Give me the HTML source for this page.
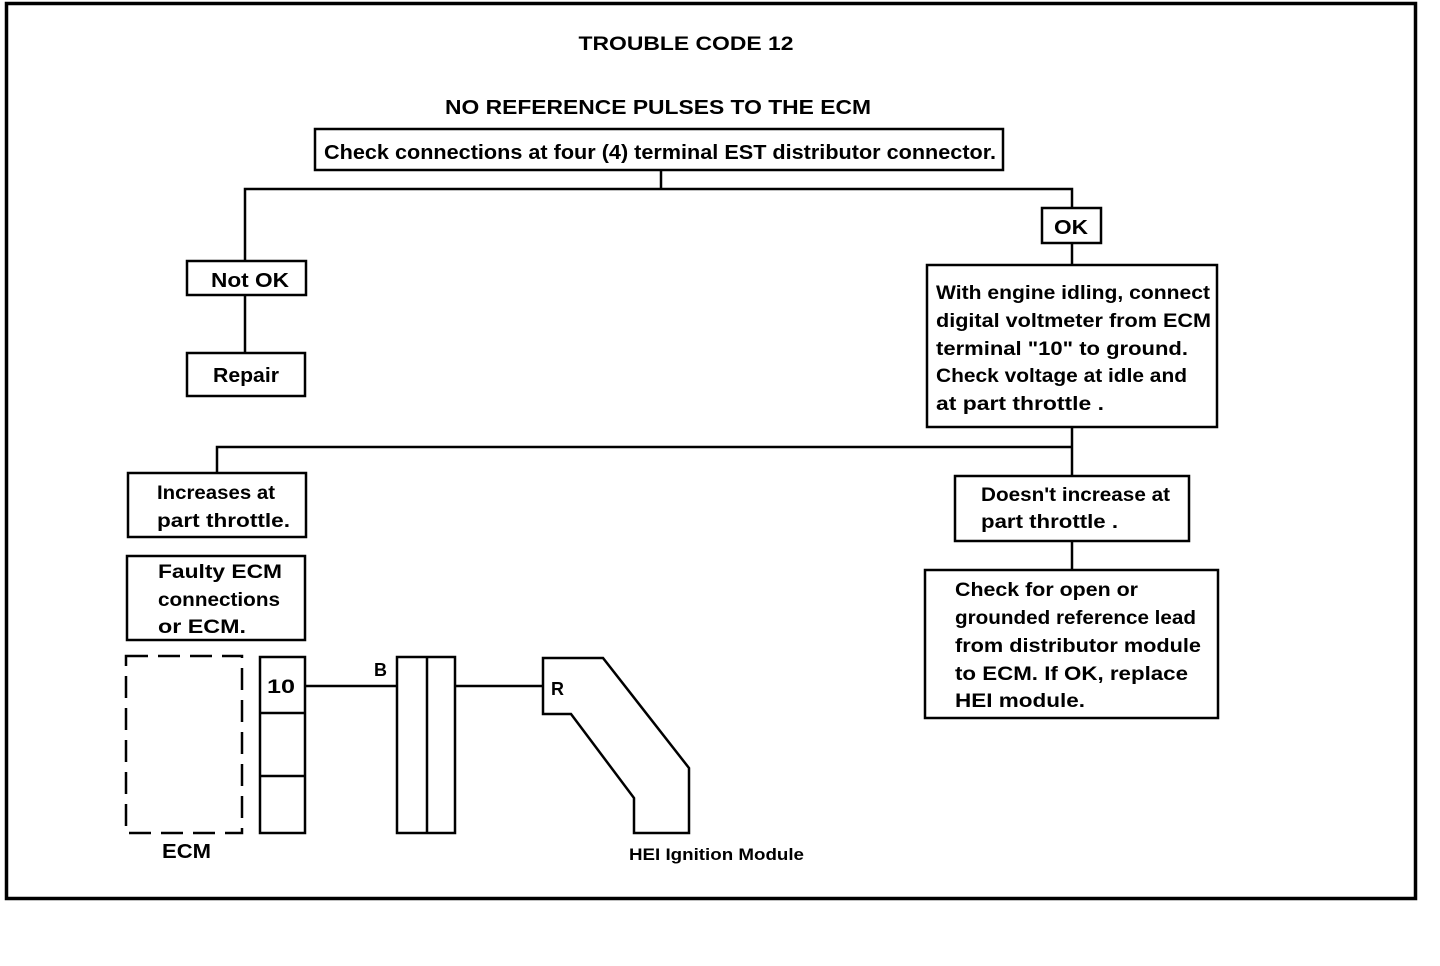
<!DOCTYPE html>
<html><head><meta charset="utf-8"><style>
html,body{margin:0;padding:0;background:#fff;width:1440px;height:966px;overflow:hidden}
svg text{font-family:"Liberation Sans",Arial,sans-serif;font-weight:bold;fill:#000}
</style></head><body>
<svg width="1440" height="966" viewBox="0 0 1440 966" xmlns="http://www.w3.org/2000/svg">
<g fill="none" stroke="#000">
<rect x="6.5" y="3.5" width="1409" height="895" stroke-width="3.5"/>
<g stroke-width="2.5">
<rect x="315" y="129" width="688" height="41"/>
<polyline points="661,170 661,189"/>
<polyline points="245,261 245,189 1072,189 1072,208"/>
<rect x="1042" y="208" width="59" height="35"/>
<line x1="1072" y1="243" x2="1072" y2="265"/>
<rect x="927" y="265" width="290" height="162"/>
<rect x="187" y="261" width="119" height="34"/>
<line x1="245" y1="295" x2="245" y2="353"/>
<rect x="187" y="353" width="118" height="43"/>
<line x1="1072" y1="427" x2="1072" y2="476"/>
<polyline points="217,473 217,447 1072,447"/>
<rect x="128" y="473" width="178" height="64"/>
<rect x="127" y="556" width="178" height="84"/>
<rect x="955" y="476" width="234" height="65"/>
<line x1="1072" y1="541" x2="1072" y2="570"/>
<rect x="925" y="570" width="293" height="148"/>
<rect x="126" y="656" width="116" height="177" stroke-dasharray="22,10"/>
<rect x="260" y="657" width="45" height="176"/>
<line x1="260" y1="713" x2="305" y2="713"/>
<line x1="260" y1="776" x2="305" y2="776"/>
<line x1="305" y1="686" x2="397" y2="686"/>
<rect x="397" y="657" width="58" height="176"/>
<line x1="427" y1="657" x2="427" y2="833"/>
<line x1="455" y1="686" x2="543" y2="686"/>
<polygon points="543,658 603,658 689,768 689,833 634,833 634,798 571,714 543,714"/>
</g></g>
<text x="686" y="50" font-size="19" text-anchor="middle" textLength="215" lengthAdjust="spacingAndGlyphs">TROUBLE CODE 12</text>
<text x="658" y="114" font-size="20" text-anchor="middle" textLength="426" lengthAdjust="spacingAndGlyphs">NO REFERENCE PULSES TO THE ECM</text>
<text x="324" y="159" font-size="20" textLength="672" lengthAdjust="spacingAndGlyphs">Check connections at four (4) terminal EST distributor connector.</text>
<text x="1071" y="234" font-size="20" text-anchor="middle" textLength="34" lengthAdjust="spacingAndGlyphs">OK</text>
<text x="211" y="287" font-size="20" textLength="78" lengthAdjust="spacingAndGlyphs">Not OK</text>
<text x="213" y="382" font-size="20" textLength="66" lengthAdjust="spacingAndGlyphs">Repair</text>
<g font-size="19">
<text x="936" y="299" textLength="274" lengthAdjust="spacingAndGlyphs">With engine idling, connect</text>
<text x="936" y="327" textLength="275" lengthAdjust="spacingAndGlyphs">digital voltmeter from ECM</text>
<text x="936" y="355" textLength="252" lengthAdjust="spacingAndGlyphs">terminal "10" to ground.</text>
<text x="936" y="382" textLength="251" lengthAdjust="spacingAndGlyphs">Check voltage at idle and</text>
<text x="936" y="410" textLength="168" lengthAdjust="spacingAndGlyphs">at part  throttle .</text>
<text x="157" y="499" textLength="118" lengthAdjust="spacingAndGlyphs">Increases at</text>
<text x="157" y="527" textLength="133" lengthAdjust="spacingAndGlyphs">part throttle.</text>
<text x="158" y="578" textLength="124" lengthAdjust="spacingAndGlyphs">Faulty ECM</text>
<text x="158" y="606" textLength="122" lengthAdjust="spacingAndGlyphs">connections</text>
<text x="158" y="633" textLength="88" lengthAdjust="spacingAndGlyphs">or ECM.</text>
<text x="981" y="501" textLength="189" lengthAdjust="spacingAndGlyphs">Doesn't increase at</text>
<text x="981" y="528" textLength="137" lengthAdjust="spacingAndGlyphs">part throttle .</text>
<text x="955" y="596" textLength="183" lengthAdjust="spacingAndGlyphs">Check for open or</text>
<text x="955" y="624" textLength="241" lengthAdjust="spacingAndGlyphs">grounded reference lead</text>
<text x="955" y="652" textLength="246" lengthAdjust="spacingAndGlyphs">from distributor module</text>
<text x="955" y="680" textLength="233" lengthAdjust="spacingAndGlyphs">to ECM. If OK, replace</text>
<text x="955" y="707" textLength="130" lengthAdjust="spacingAndGlyphs">HEI module.</text>
<text x="267" y="693" textLength="28" lengthAdjust="spacingAndGlyphs">10</text>
</g>
<text x="374" y="676" font-size="18">B</text>
<text x="551" y="695" font-size="18">R</text>
<text x="162" y="858" font-size="20" textLength="49" lengthAdjust="spacingAndGlyphs">ECM</text>
<text x="629" y="860" font-size="17" textLength="175" lengthAdjust="spacingAndGlyphs">HEI Ignition Module</text>
</svg>
</body></html>
